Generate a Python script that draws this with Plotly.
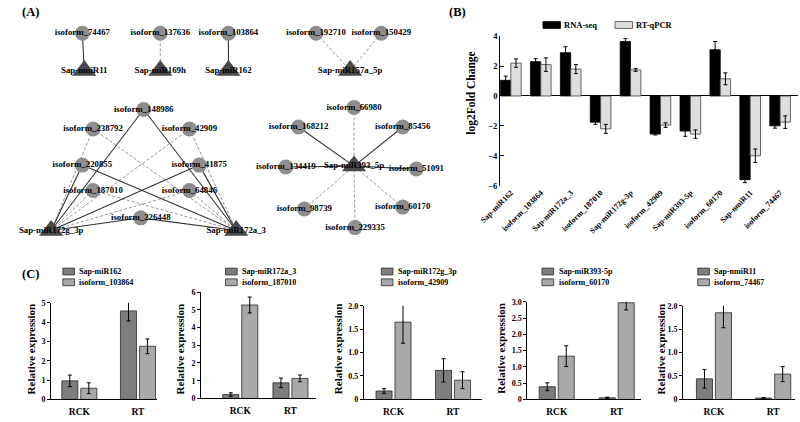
import plotly.graph_objects as go

# ===================== DATA =====================
# ---- Panel A: miRNA / isoform network (node layout positions in panel pixels) ----
node_names = [
    "isoform_74467", "Sap-nmiR11", "isoform_137636", "Sap-miR169h", "isoform_103864", "Sap-miR162",
    "isoform_192710", "isoform_150429", "Sap-miR157a_5p",
    "isoform_148986", "isoform_238792", "isoform_42909", "isoform_220855", "isoform_41875",
    "isoform_187010", "isoform_64846", "isoform_226448", "Sap-miR172g_3p", "Sap-miR172a_3",
    "isoform_66980", "isoform_168212", "isoform_85456", "isoform_134419", "isoform_51091",
    "isoform_98739", "isoform_60170", "isoform_229335", "Sap-miR393_5p",
]
node_x = [63, 65, 143, 143, 213, 213,
          303, 370, 338,
          126, 74, 173, 63, 183, 74, 173, 123, 31, 221,
          342, 285, 392, 272, 406, 291, 392, 343, 342]
node_y = [29, 67, 29, 67, 29, 67,
          29, 29, 67,
          107, 127, 127, 164, 164, 190, 190, 218, 231, 231,
          105, 125, 125, 166, 168, 209, 207, 228, 165]

edge_src = [
    "isoform_74467", "isoform_137636", "isoform_103864", "isoform_192710", "isoform_150429",
    "isoform_148986", "isoform_238792", "isoform_42909", "isoform_220855", "isoform_41875",
    "isoform_187010", "isoform_64846", "isoform_226448",
    "isoform_148986", "isoform_238792", "isoform_42909", "isoform_220855", "isoform_41875",
    "isoform_187010", "isoform_64846", "isoform_226448",
    "isoform_66980", "isoform_168212", "isoform_85456", "isoform_134419", "isoform_51091",
    "isoform_98739", "isoform_60170", "isoform_229335",
]
edge_dst = (["Sap-nmiR11", "Sap-miR169h", "Sap-miR162", "Sap-miR157a_5p", "Sap-miR157a_5p"]
            + ["Sap-miR172g_3p"] * 8 + ["Sap-miR172a_3"] * 8 + ["Sap-miR393_5p"] * 8)
edge_type = (["solid", "dashed", "solid", "dashed", "dashed"]
             + ["solid", "dashed", "dashed", "solid", "solid", "dashed", "dashed", "solid"] * 2
             + ["dashed", "solid", "solid", "solid", "solid", "dashed", "dashed", "dashed"])

# ---- Panel B: log2 fold change ----
b_categories = ["Sap-miR162", "isoform_103864", "Sap-miR172a_3", "isoform_187010", "Sap-miR172g-3p",
                "isoform_42909", "Sap-miR393-5p", "isoform_60170", "Sap-nmiR11", "isoform_74467"]
b_rnaseq = [1.05, 2.3, 2.9, -1.75, 3.65, -2.55, -2.35, 3.1, -5.6, -2.0]
b_rnaseq_err = [0.28, 0.2, 0.4, 0.15, 0.2, 0.06, 0.35, 0.55, 0.2, 0.15]
b_qpcr = [2.2, 2.1, 1.8, -2.2, 1.75, -1.95, -2.55, 1.15, -4.0, -1.75]
b_qpcr_err = [0.28, 0.45, 0.3, 0.3, 0.1, 0.15, 0.28, 0.4, 0.45, 0.42]
b_yticks = [-6, -4, -2, 0, 2, 4]

# ---- Panel C: relative expression ----
c_groups = ["RCK", "RT"]
c_mirna = ["Sap-miR162", "Sap-miR172a_3", "Sap-miR172g_3p", "Sap-miR393-5p", "Sap-nmiR11"]
c_isoform = ["isoform_103864", "isoform_187010", "isoform_42909", "isoform_60170", "isoform_74467"]
c_mirna_val = [[0.96, 4.58], [0.22, 0.88], [0.18, 0.62], [0.39, 0.05], [0.44, 0.03]]
c_mirna_err = [[0.3, 0.52], [0.1, 0.27], [0.05, 0.25], [0.12, 0.02], [0.2, 0.01]]
c_iso_val = [[0.58, 2.75], [5.27, 1.13], [1.65, 0.41], [1.33, 2.97], [1.85, 0.54]]
c_iso_err = [[0.28, 0.38], [0.45, 0.19], [0.45, 0.18], [0.32, 0.22], [0.32, 0.16]]
c_ytickvals = [[0, 1, 2, 3, 4, 5], [0, 1, 2, 3, 4, 5, 6], [0, 0.5, 1, 1.5, 2],
               [0, 0.5, 1, 1.5, 2, 2.5, 3], [0, 0.5, 1, 1.5, 2]]
c_yticktext = [["0", "1", "2", "3", "4", "5"], ["0", "1", "2", "3", "4", "5", "6"],
               ["0", "0.5", "1.0", "1.5", "2.0"], ["0", "0.5", "1.0", "1.5", "2.0", "2.5", "3.0"],
               ["0", "0.5", "1.0", "1.5", "2.0"]]
c_yrange = [[0, 5], [0, 6], [0, 2], [0, 3], [0, 2]]

# ===================== LAYOUT / STYLE =====================
W, H = 800, 422
def px(x): return x / W
def py(y): return 1 - y / H

SERIF = "Liberation Serif"
def bold(size, color="black"):
    return dict(family=SERIF, size=size, color=color, weight="bold")

# pixel geometry of panel C sub-plots
c_geom = [
    dict(x0=31, x1=140, y0=305, y1=404, xr=[-0.48, 1.33], leg=43, tx=10),
    dict(x0=185, x1=303, y0=294, y1=403, xr=[-0.78, 1.51], leg=210, tx=163),
    dict(x0=352, x1=473, y0=308, y1=404, xr=[-0.50, 1.48], leg=370, tx=325),
    dict(x0=520, x1=637, y0=304, y1=404, xr=[-0.49, 1.41], leg=535, tx=493),
    dict(x0=680, x1=795, y0=308, y1=404, xr=[-0.52, 1.37], leg=695, tx=657),
]
C_DARK, C_LIGHT, C_EDGE = "#7e7e7e", "#a9a9a9", "#2a2a2a"
B_LIGHT = "#dedede"

fig = go.Figure()

# ---------- Panel A ----------
pos = {n: (x, y) for n, x, y in zip(node_names, node_x, node_y)}
for style, color, width, dash in [("dashed", "#7a7a7a", 0.8, "3px,2px"), ("solid", "#333333", 1.1, "solid")]:
    ex, ey = [], []
    for s, d, t in zip(edge_src, edge_dst, edge_type):
        if t == style:
            ex += [pos[s][0], pos[d][0], None]
            ey += [pos[s][1], pos[d][1], None]
    fig.add_trace(go.Scatter(x=ex, y=ey, mode="lines", xaxis="x", yaxis="y",
                             line=dict(color=color, width=width, dash=dash),
                             hoverinfo="skip", showlegend=False))
iso = [i for i, n in enumerate(node_names) if not n.startswith("Sap")]
mir = [i for i, n in enumerate(node_names) if n.startswith("Sap")]
fig.add_trace(go.Scatter(x=[node_x[i] for i in iso], y=[node_y[i] for i in iso], mode="markers",
                         xaxis="x", yaxis="y", marker=dict(symbol="circle", size=15, color="#8e8e8e"),
                         showlegend=False, hoverinfo="skip", cliponaxis=False))
fig.add_trace(go.Scatter(x=[node_x[i] for i in mir], y=[node_y[i] for i in mir], mode="markers",
                         xaxis="x", yaxis="y", marker=dict(symbol="triangle-up", size=21, color="#4a4a4a"),
                         showlegend=False, hoverinfo="skip", cliponaxis=False))
fig.add_trace(go.Scatter(x=node_x, y=node_y, text=node_names, mode="text", textposition="middle center",
                         xaxis="x", yaxis="y", textfont=bold(8.8), showlegend=False, hoverinfo="skip",
                         cliponaxis=False))

# ---------- Panel B ----------
fig.add_trace(go.Bar(x=b_categories, y=b_rnaseq, name="RNA-seq", xaxis="x2", yaxis="y2",
                     marker=dict(color="black", line=dict(color="black", width=0.8)),
                     error_y=dict(type="data", array=b_rnaseq_err, color="black", thickness=1, width=2),
                     showlegend=False))
fig.add_trace(go.Bar(x=b_categories, y=b_qpcr, name="RT-qPCR", xaxis="x2", yaxis="y2",
                     marker=dict(color=B_LIGHT, line=dict(color="#444444", width=0.8)),
                     error_y=dict(type="data", array=b_qpcr_err, color="black", thickness=1, width=2),
                     showlegend=False))

# ---------- Panel C ----------
for i, g in enumerate(c_geom):
    n = i + 3
    sp = (g["x1"] - g["x0"]) / (g["xr"][1] - g["xr"][0])
    w, gap = 16.5 / sp, 3 / sp
    fig.add_trace(go.Bar(x=c_groups, y=c_mirna_val[i], name=c_mirna[i], xaxis=f"x{n}", yaxis=f"y{n}",
                         width=[w, w], offset=-(w + gap / 2),
                         marker=dict(color=C_DARK, line=dict(color=C_EDGE, width=0.8)),
                         error_y=dict(type="data", array=c_mirna_err[i], color="black", thickness=1, width=2),
                         showlegend=False))
    fig.add_trace(go.Bar(x=c_groups, y=c_iso_val[i], name=c_isoform[i], xaxis=f"x{n}", yaxis=f"y{n}",
                         width=[w, w], offset=gap / 2,
                         marker=dict(color=C_LIGHT, line=dict(color=C_EDGE, width=0.8)),
                         error_y=dict(type="data", array=c_iso_err[i], color="black", thickness=1, width=2),
                         showlegend=False))

layout = dict(
    width=W, height=H, margin=dict(l=0, r=0, t=0, b=0), autosize=False,
    paper_bgcolor="white", plot_bgcolor="white",
    barmode="group", bargap=0.31, bargroupgap=0.0,
    font=bold(9),
    xaxis=dict(domain=[0, px(465)], range=[0, 465], visible=False, fixedrange=True),
    yaxis=dict(domain=[py(245), 1], range=[245, 0], visible=False, fixedrange=True),
    xaxis2=dict(domain=[px(492), px(798)], range=[-0.36, 9.6], anchor="y2", type="category",
                showline=False, ticks="", tickangle=-45, tickfont=bold(8), showgrid=False, zeroline=False),
    yaxis2=dict(domain=[py(185), py(32)], range=[-6, 4], anchor="x2", tickvals=b_yticks,
                showline=True, linecolor="black", linewidth=1, ticks="inside", ticklen=4,
                tickcolor="black", tickfont=bold(8.5), showgrid=False,
                zeroline=True, zerolinecolor="black", zerolinewidth=1),
)
for i, g in enumerate(c_geom):
    n = i + 3
    layout[f"xaxis{n}"] = dict(domain=[px(g["x0"]), px(g["x1"])], range=g["xr"], anchor=f"y{n}",
                               type="category", showline=True, linecolor="black", linewidth=1,
                               ticks="", tickfont=bold(9.5), showgrid=False, zeroline=False,
                               ticklabelstandoff=3)
    layout[f"yaxis{n}"] = dict(domain=[py(g["y1"]), py(g["y0"])], range=c_yrange[i], anchor=f"x{n}",
                               tickvals=c_ytickvals[i], ticktext=c_yticktext[i],
                               showline=True, linecolor="black", linewidth=1, ticks="outside",
                               ticklen=3, tickcolor="black", tickfont=bold(8), showgrid=False,
                               zeroline=False)
fig.update_layout(**layout)

# ---------- annotations: panel labels, axis titles, legends ----------
ann = []
for lab, x, y in [("(A)", 10, 7), ("(B)", 448, 7), ("(C)", 10, 276)]:
    ann.append(dict(text=lab, x=px(x), y=py(y), xref="paper", yref="paper", showarrow=False,
                    font=bold(12.5), xanchor="center", yanchor="middle"))
ann.append(dict(text="log2Fold Change", x=px(463), y=py(90), xref="paper", yref="paper",
                showarrow=False, textangle=-90, font=bold(11.5), xanchor="center", yanchor="middle"))
shapes = []
for i, g in enumerate(c_geom):
    ann.append(dict(text="Relative expression", x=px(g["tx"]), y=py(352), xref="paper", yref="paper",
                    showarrow=False, textangle=-90, font=bold(11), xanchor="center", yanchor="middle"))
    for row, (label, col) in enumerate([(c_mirna[i], C_DARK), (c_isoform[i], C_LIGHT)]):
        yc = 273 + 11 * row
        shapes.append(dict(type="rect", xref="paper", yref="paper",
                           x0=px(g["leg"]), x1=px(g["leg"] + 12), y0=py(yc + 3.5), y1=py(yc - 3.5),
                           fillcolor=col, line=dict(color=C_EDGE, width=0.8)))
        ann.append(dict(text=label, x=px(g["leg"] + 15), y=py(yc), xref="paper", yref="paper",
                        showarrow=False, font=bold(8), xanchor="left", yanchor="middle"))
for label, col, lc, x0 in [("RNA-seq", "black", "black", 536), ("RT-qPCR", B_LIGHT, "#444444", 610)]:
    shapes.append(dict(type="rect", xref="paper", yref="paper", x0=px(x0), x1=px(x0 + 18),
                       y0=py(24), y1=py(17), fillcolor=col, line=dict(color=lc, width=0.8)))
    ann.append(dict(text=label, x=px(x0 + 20), y=py(20.5), xref="paper", yref="paper",
                    showarrow=False, font=bold(8.5), xanchor="left", yanchor="middle"))
fig.update_layout(annotations=ann, shapes=shapes)

fig.write_html("out.html")
